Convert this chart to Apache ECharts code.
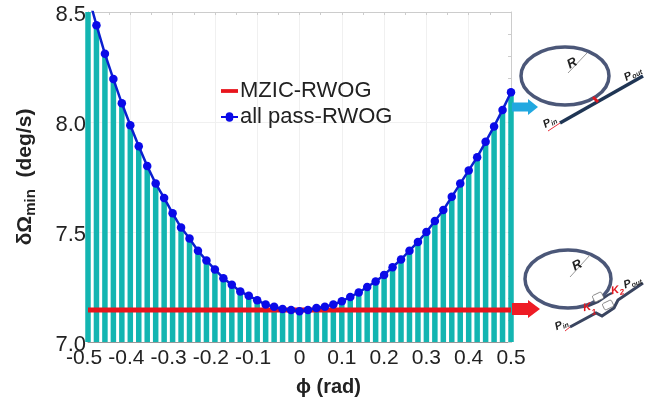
<!DOCTYPE html>
<html>
<head>
<meta charset="utf-8">
<style>html,body{margin:0;padding:0;background:#fff}#main{width:645px;height:406px}</style>
<script src="https://cdn.jsdelivr.net/npm/echarts@6/dist/echarts.min.js"></script>
</head>
<body>
<div id="main"></div>
<script type="text/javascript">
var phi = [-0.5,-0.48,-0.46,-0.44,-0.42,-0.4,-0.38,-0.36,-0.34,-0.32,-0.3,-0.28,-0.26,-0.24,-0.22,-0.2,-0.18,-0.16,-0.14,-0.12,-0.1,-0.08,-0.06,-0.04,-0.02,0,
  0.02,0.04,0.06,0.08,0.1,0.12,0.14,0.16,0.18,0.2,0.22,0.24,0.26,0.28,0.3,0.32,0.34,0.36,0.38,0.4,0.42,0.44,0.46,0.48,0.5];
var allPass = [8.58,8.44,8.31,8.195,8.085,7.985,7.89,7.8,7.72,7.655,7.585,7.52,7.47,7.415,7.37,7.33,7.29,7.26,7.23,7.21,7.19,7.17,7.16,7.15,7.145,7.14,
  7.145,7.155,7.16,7.17,7.185,7.205,7.225,7.25,7.275,7.305,7.34,7.375,7.415,7.455,7.5,7.55,7.6,7.66,7.72,7.78,7.84,7.91,7.98,8.055,8.135];
var mzicPhi = [-0.5,0.5];
var mzic = [7.145,7.145];

var font = '"Liberation Sans", Arial, sans-serif';
var chart = echarts.init(document.getElementById('main'));

function pairs(xs, ys) {
  return xs.map(function (x, i) { return [x, ys[i]]; });
}
function ptext(x, y, main, sub, rot) {
  return {
    type: 'text', x: x, y: y, rotation: rot, z: 20,
    style: {
      text: '{p|' + main + '}{s|' + sub + '}',
      rich: {
        p: {font: 'italic bold 11px ' + font, fill: '#222'},
        s: {font: 'italic bold 7px ' + font, fill: '#222', padding: [5, 0, 0, 0]}
      }
    }
  };
}
function arrow(x1, x2, y, body, head, neck, color) {
  return {
    type: 'polygon', z: 20,
    shape: {points: [[x1, y - body], [neck, y - body], [neck, y - head], [x2, y], [neck, y + head], [neck, y + body], [x1, y + body]]},
    style: {fill: color}
  };
}
function wire(pts, color, w) {
  return {type: 'polyline', z: 20, shape: {points: pts}, style: {stroke: color, lineWidth: w, fill: null}};
}
function ring(cx, cy, rx, ry) {
  return {type: 'ellipse', z: 20, shape: {cx: cx, cy: cy, rx: rx, ry: ry}, style: {fill: null, stroke: '#4b5778', lineWidth: 3.5}};
}
function label(x, y, txt, size, color, rot) {
  return {type: 'text', x: x, y: y, rotation: rot || 0, z: 21, style: {text: txt, font: 'italic bold ' + size + 'px ' + font, fill: color}};
}
function box(cx, cy) {
  return {type: 'rect', z: 21, x: cx, y: cy, rotation: 0.45,
    shape: {x: -5, y: -3.5, width: 10, height: 7, r: 1.5}, style: {fill: '#fff', stroke: '#666', lineWidth: 0.7}};
}

var schematic = [
  // top: all pass ring
  arrow(512, 538, 107, 4.5, 8, 528, '#21a8e0'),
  ring(565, 76, 44, 29),
  wire([[568, 73], [587, 53]], '#999', 1),
  label(565, 60, 'R', 13, '#222', 0.5),
  wire([[548, 131], [560, 123]], '#e8303a', 1),
  wire([[560, 123], [643, 76]], '#1f3554', 3.5),
  wire([[593, 97], [598, 102]], '#e01820', 3),
  ptext(541, 120, 'P', 'in', 0.5),
  ptext(622, 73, 'P', 'out', 0.5),
  // bottom: MZI coupled ring
  arrow(512, 540, 309, 6, 9, 528, '#ee1c25'),
  ring(568, 279, 43, 29),
  wire([[570, 277], [590, 255]], '#999', 1),
  label(570, 262, 'R', 13, '#222', 0.5),
  wire([[565, 331], [570, 327]], '#e8303a', 1),
  wire([[570, 327], [596, 313], [602, 316], [614, 308], [618, 300], [643, 283]], '#3a4560', 3),
  wire([[588, 306], [598, 302], [608, 295], [612, 293]], '#3a4560', 2.5),
  box(598, 297),
  box(608, 305),
  label(582, 303, 'K', 11, '#e01820', 0.2),
  label(591, 309, '1', 8, '#e01820', 0.2),
  label(610, 286, 'K', 11, '#e01820', 0.2),
  label(619, 289, '2', 8, '#e01820', 0.2),
  ptext(553, 322, 'P', 'in', 0.4),
  ptext(622, 280, 'P', 'out', 0.35)
];

var option = {
  animation: false,
  backgroundColor: '#fff',
  grid: {left: 88, right: 134, top: 12, bottom: 64, containLabel: false},
  legend: {
    left: 216, top: 75, orient: 'vertical', itemGap: 4, itemWidth: 17, itemHeight: 20,
    data: [
      {name: 'MZIC-RWOG', icon: 'path://M0 0h0M0 8h18v4h-18zM18 20h0'},
      {name: 'all pass-RWOG', icon: 'path://M0 0h0M0 9h5a4 4 0 1 1 8 0h5v2h-5a4 4 0 1 1 -8 0h-5zM18 20h0'}
    ],
    textStyle: {fontFamily: font, fontSize: 22, color: '#222', padding: [0, 0, 0, -3]}
  },
  xAxis: [{
    type: 'value', min: -0.5, max: 0.5, interval: 0.1,
    axisLine: {onZero: false, lineStyle: {color: '#999'}},
    axisTick: {show: false},
    splitLine: {show: true, lineStyle: {color: '#f0f0f0'}},
    axisLabel: {
      fontFamily: font, fontSize: 21, color: '#222', margin: 6, hideOverlap: false,
      rich: {n: {fontFamily: font, fontSize: 21, color: '#222', padding: [0, 8, 0, 0]}},
      formatter: function (v) {
        if (Math.abs(v) < 1e-9) return '0';
        return v < 0 ? '{n|' + v.toFixed(1) + '}' : v.toFixed(1);
      }
    },
    name: 'ϕ (rad)', nameLocation: 'middle', nameGap: 35,
    nameTextStyle: {fontFamily: font, fontSize: 20, fontWeight: 'bold', color: '#222', padding: [0, 0, 0, 58]}
  }, {
    type: 'value', position: 'top', min: -0.5, max: 0.5, interval: 0.05,
    axisLine: {show: true, onZero: false, lineStyle: {color: '#ccc'}},
    axisTick: {show: true, inside: true, length: 3, lineStyle: {color: '#ccc'}},
    axisLabel: {show: false}, splitLine: {show: false}
  }],
  yAxis: [{
    type: 'value', min: 7, max: 8.5, interval: 0.5,
    axisLine: {show: true, onZero: false, lineStyle: {color: '#999'}},
    axisTick: {show: false},
    splitLine: {show: true, lineStyle: {color: '#f0f0f0'}},
    axisLabel: {
      margin: 2,
      rich: {t: {fontFamily: font, fontSize: 22, color: '#222', padding: [6, 0, 0, 0]}},
      formatter: function (v) { return '{t|' + v.toFixed(1) + '}'; }
    },
    name: '{a|δΩ}{b|min}{a|  (deg/s)}', nameLocation: 'middle', nameGap: 50,
    nameTextStyle: {
      rich: {
        a: {fontFamily: font, fontSize: 21, fontWeight: 'bold', color: '#222'},
        b: {fontFamily: font, fontSize: 15, fontWeight: 'bold', color: '#222', padding: [10, 0, 0, 0]}
      }
    }
  }, {
    type: 'value', position: 'right', min: 7, max: 8.5, interval: 0.1,
    axisLine: {show: true, onZero: false, lineStyle: {color: '#ccc'}},
    axisTick: {show: true, inside: true, length: 3, lineStyle: {color: '#ccc'}},
    axisLabel: {show: false}, splitLine: {show: false}
  }],
  series: [{
    name: 'bars', type: 'bar', barWidth: 5.5, clip: true,
    data: pairs(phi, allPass),
    itemStyle: {color: '#13b5b1'}, z: 2
  }, {
    name: 'MZIC-RWOG', type: 'line', showSymbol: false, symbol: 'none',
    data: pairs(mzicPhi, mzic),
    lineStyle: {color: '#e8141c', width: 5}, itemStyle: {color: '#e8141c'}, z: 3
  }, {
    name: 'all pass-RWOG', type: 'line', clip: true,
    symbol: 'circle', symbolSize: 8.5,
    data: pairs(phi, allPass),
    lineStyle: {color: '#0b1fd0', width: 2.5},
    itemStyle: {color: '#0a0ae8'}, z: 4
  }],
  graphic: schematic
};
chart.setOption(option);
</script>
</body>
</html>
